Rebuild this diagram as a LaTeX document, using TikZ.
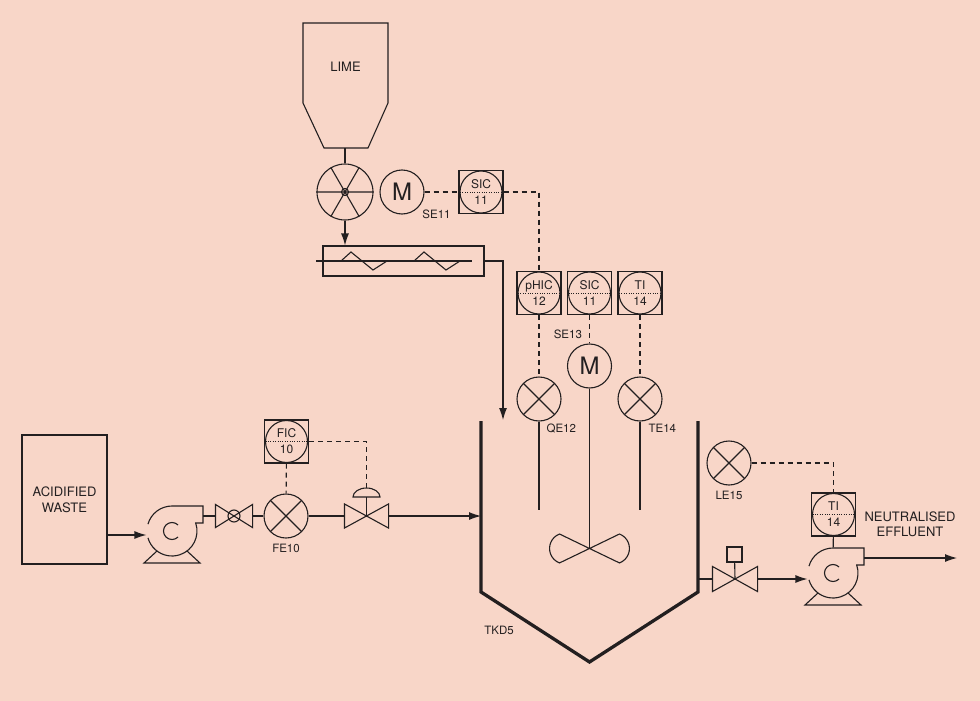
\documentclass[tikz,border=0pt]{standalone}
\usepackage{fontspec}
\setmainfont{TeX Gyre Heros}
\usetikzlibrary{arrows.meta,positioning,calc}
\definecolor{peach}{RGB}{248,214,200}
\definecolor{ink}{RGB}{35,31,32}
\tikzset{
  vessel/.style = {draw, minimum width=85pt, minimum height=129pt, align=center, font=\fontsize{13}{16}\selectfont},
  big/.style    = {inner sep=0pt, align=center, font=\fontsize{13}{15.5}\selectfont},
  tag/.style    = {inner sep=0pt, font=\fontsize{11.5}{13}\selectfont},
  sensor/.style = {draw, circle, minimum size=44pt, inner sep=0pt,
                   path picture={\draw (path picture bounding box.north west) -- (path picture bounding box.south east)
                                       (path picture bounding box.north east) -- (path picture bounding box.south west);}},
  motor/.style  = {draw, circle, minimum size=44pt, inner sep=0pt, font=\fontsize{24}{24}\selectfont},
  panel/.style  = {draw, minimum width=44pt, minimum height=43pt, inner sep=0pt, align=center,
                   font=\fontsize{12}{16}\selectfont,
                   path picture={\draw (path picture bounding box.center) circle[radius=21pt];
                                 \draw[line width=0.6pt, dash pattern=on 0.8pt off 1.6pt]
                                   ([xshift=-21pt]path picture bounding box.center) -- ([xshift=21pt]path picture bounding box.center);}},
  valve/.style  = {minimum width=36pt, minimum height=22pt, inner sep=0pt},
  pump/.style   = {circle, minimum size=50pt, inner sep=0pt},
  signal/.style = {line width=1.1pt, dash pattern=on 5pt off 4pt},
  flow/.style   = {-{Latex[length=12pt,width=8pt]}},
  wall/.style   = {line width=3.3pt},
}
\begin{document}
\begin{tikzpicture}[x=1pt, y=-1pt, line width=1.1pt, color=ink]
  \fill[peach] (0,0) rectangle (980,701);

  \draw (303,23) -- (388,23) -- (388,103) -- (368,148) -- (324,148) -- (303,103) -- cycle;
  \node[big] (lime) at (345.5,67) {LIME};
  \coordinate (hopout) at (345,148);
  \node[draw, circle, minimum size=56pt, inner sep=0pt] (rv) at (345,192) {};
  \draw (rv.west) -- (rv.east) (rv.60) -- (rv.240) (rv.120) -- (rv.300);
  \draw (rv) circle[radius=3.5];
  \draw (hopout) -- (rv.north);
  \node[motor] (m11) at (402,192) {M};
  \node[tag, below right=1pt and 4pt of m11.south east] {SE11};
  \node[panel] (sic11) at (481,192) {SIC\\11};
  \draw[signal] (m11) -- (sic11);

  \node[draw, minimum width=161pt, minimum height=30pt, inner sep=0pt] (conv) at (403.5,261) {};
  \draw ([xshift=-6pt]conv.west) -- ([xshift=-13pt]conv.east);
  \foreach \s in {341,414}
    \draw (\s,261) -- ++(10,-9) -- ++(22,18) -- ++(14,-9);
  \draw[flow] (rv.south) -- (rv.south |- conv.north);
  \coordinate (limein) at (503,420);
  \draw[flow] (conv.east) -| (limein);

  \foreach \n/\x/\a/\b in {phic/539/pHIC/12, sic13/589.5/SIC/11, ti14/640/TI/14}
    \node[panel] (\n) at (\x,293) {\a\\\b};
  \draw[signal] (sic11.east) -| (phic.north);
  \node[sensor] (qe12) at (539,399) {};
  \node[motor] (m13) at (589.5,366) {M};
  \node[sensor] (te14) at (640,399) {};
  \draw[signal] (phic) -- (qe12);
  \draw[signal] (sic13) -- (m13);
  \draw[signal] (ti14) -- (te14);
  \node[tag, above left=4pt and 7pt of m13.north] {SE13};
  \node[tag, below right=2pt and 7pt of qe12.south] {QE12};
  \node[tag, below right=2pt and 8pt of te14.south] {TE14};
  \draw (qe12.south) -- ++(0,88);
  \draw (te14.south) -- ++(0,88);
  \coordinate (imp) at (589.5,548.5);
  \draw (m13.south) -- (imp);
  \foreach \s in {1,-1}
    \draw[shift={(imp)}, xscale=\s] (0,0) -- (-30,-14.5) arc[start angle=-111, end angle=-249, radius=15.5] -- cycle;

  \coordinate (tl) at (481,421);
  \coordinate (tr) at (698,421);
  \draw[wall] (tl) -- (481,592) -- (589.5,662) -- (698,592) -- (tr);
  \node[tag] (tkd5) at (499,630) {TKD5};

  \node[vessel] (waste) at (64.5,499.5) {ACIDIFIED\\WASTE};
  \node[pump] (p1) at (172,531) {};
  \node[pump] (p2) at (833,573) {};
  \foreach \p in {p1,p2}
    \draw[shift={(\p)}]
      (-164:25) arc[start angle=-164, end angle=-90, radius=25] -- (31,-25) -- (31,-8) -- (-18.66:25)
        arc[start angle=-18.66, end angle=164, radius=25]
      (-45:8.5) arc[start angle=-45, end angle=-315, radius=8.5]
      (-15,20) -- (-28,32) -- (28,32) -- (15,20);
  \coordinate (p1in) at ($(p1.west)+(0,4)$);
  \coordinate (p1out) at ($(p1)+(31,-15)$);
  \draw[flow] (waste.east |- p1in) -- (p1in);

  \node[valve] (v1) at (234,516) {};
  \draw (v1.north west) -- (v1.south east) -- (v1.north east) -- (v1.south west) -- cycle;
  \draw (v1) circle[radius=6];
  \draw (p1out) -- (v1.west);
  \node[sensor] (fe10) at (286,516) {};
  \node[tag, below=5pt of fe10] {FE10};
  \draw (v1.east) -- (fe10.west);
  \node[panel] (fic10) at (286.5,441.5) {FIC\\10};
  \draw[signal] (fic10) -- (fe10);
  \node[valve, minimum width=43pt, minimum height=23pt] (v2) at (366.5,516) {};
  \draw (v2.north west) -- (v2.south east) -- (v2.north east) -- (v2.south west) -- cycle;
  \draw (v2.center) -- ++(0,-19) coordinate (v2dome);
  \draw (v2dome) ++(-13.5,0) arc[start angle=-180, end angle=0, x radius=13.5, y radius=9] -- cycle;
  \coordinate (v2top) at ($(v2dome)+(0,-9)$);
  \draw[signal] (fic10.east) -| (v2top);
  \draw (fe10.east) -- (v2.west);
  \draw[flow] (v2.east) -- (v2.east -| tl);

  \node[sensor] (le15) at (729,463) {};
  \node[tag, below=5pt of le15] {LE15};
  \node[panel] (ti14b) at (833.5,514.5) {TI\\14};
  \draw[signal] (le15) -| (ti14b);
  \draw (ti14b) -- (p2);
  \node[valve, minimum width=44pt, minimum height=24pt] (v3) at (735,579) {};
  \draw (v3.north west) -- (v3.south east) -- (v3.north east) -- (v3.south west) -- cycle;
  \node[draw, minimum size=15pt, inner sep=0pt] (v3act) at (734.5,554.5) {};
  \draw (v3.center) -- (v3act);
  \draw (v3.west -| tr) -- (v3.west);
  \draw[flow] (v3.east) -- (p2.west |- v3);
  \coordinate (p2out) at ($(p2)+(31,-15)$);
  \coordinate (effout) at (957,558);
  \draw[flow] (p2out) -- (p2out -| effout);
  \node[big] (effl) at (910,524.5) {NEUTRALISED\\EFFLUENT};
\end{tikzpicture}
\end{document}
